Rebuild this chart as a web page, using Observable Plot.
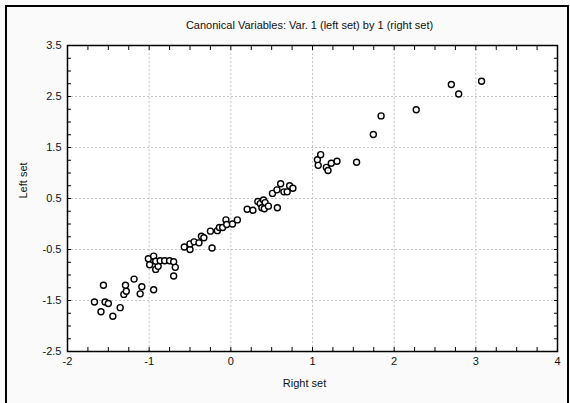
<!DOCTYPE html>
<html><head><meta charset="utf-8">
<script src="https://cdn.jsdelivr.net/npm/d3@7"></script>
<script src="https://cdn.jsdelivr.net/npm/@observablehq/plot@0.6"></script>
<style>
html,body{margin:0;padding:0;background:#fafafa;overflow:hidden;}
#wrap{position:relative;width:570px;height:403px;overflow:hidden;}
#border{position:absolute;left:5px;top:5px;width:564px;height:420px;border:2px solid #000;box-sizing:border-box;pointer-events:none;}
#chart{position:absolute;left:0;top:0;}
</style></head><body>
<div id="wrap"><div id="chart"></div><div id="border"></div></div>
<script>
const titleText = "Canonical Variables: Var. 1 (left set) by 1 (right set)";
const xLabel = "Right set";
const yLabel = "Left set";

const rightSet = [
  -1.67,-1.59,-1.56,-1.54,-1.50,-1.445,-1.355,-1.31,-1.28,-1.29,-1.185,-1.09,-1.11,-0.945,
  -1.01,-0.945,-0.994,-0.92,-0.89,-0.92,-0.865,-0.81,-0.75,-0.70,-0.68,-0.70,
  -0.57,-0.50,-0.50,-0.45,-0.39,-0.36,-0.33,-0.23,-0.25,-0.165,-0.14,-0.10,-0.06,-0.05,0.02,0.08,
  0.20,0.27,0.33,0.36,0.40,0.42,0.38,0.41,0.46,0.57,0.51,0.565,0.61,0.65,0.69,0.72,0.76,
  1.06,1.10,1.07,1.17,1.19,1.23,1.30,1.54,
  1.745,1.84,2.27,2.70,2.79,3.07
];
const leftSet = [
  -1.53,-1.72,-1.20,-1.53,-1.56,-1.81,-1.64,-1.38,-1.32,-1.20,-1.08,-1.23,-1.37,-1.29,
  -0.68,-0.63,-0.80,-0.89,-0.83,-0.73,-0.72,-0.72,-0.72,-0.74,-0.85,-1.02,
  -0.45,-0.50,-0.39,-0.35,-0.37,-0.24,-0.27,-0.47,-0.14,-0.13,-0.07,-0.07,0.08,-0.01,0.00,0.08,
  0.29,0.27,0.44,0.40,0.47,0.42,0.32,0.30,0.35,0.32,0.60,0.67,0.79,0.63,0.63,0.75,0.70,
  1.26,1.36,1.15,1.11,1.05,1.19,1.23,1.21,
  1.755,2.12,2.24,2.735,2.55,2.80
];

const xTicks = [-2,-1,0,1,2,3,4];
const yTicks = [-2.5,-1.5,-0.5,0.5,1.5,2.5,3.5];
const xGrid = [-1,0,1,2,3];
const yGrid = [-1.5,-0.5,0.5,1.5,2.5];
const xMinor = d3.range(-2, 4.001, 0.25);
const yMinor = d3.range(-2.5, 3.501, 0.25);

const points = rightSet.map((x, i) => ({x, y: leftSet[i]}));

const chart = Plot.plot({
  width: 570,
  height: 403,
  marginTop: 45,
  marginBottom: 52,
  marginLeft: 67,
  marginRight: 13,
  style: {fontFamily: "'Liberation Sans', Arial, sans-serif", fontSize: "11px", background: "transparent", color: "#111"},
  x: {domain: [-2, 4]},
  y: {domain: [-2.5, 3.5]},
  marks: [
    Plot.frame({fill: "white", stroke: null}),
    Plot.gridX(xGrid, {stroke: "#c4c4c4", strokeOpacity: 1, strokeDasharray: "2,2"}),
    Plot.gridY(yGrid, {stroke: "#c4c4c4", strokeOpacity: 1, strokeDasharray: "2,2"}),
    Plot.axisX(xMinor, {anchor: "bottom", tickSize: -4, text: null, label: null, stroke: "#000"}),
    Plot.axisX(xMinor, {anchor: "top", tickSize: -4, text: null, label: null, stroke: "#000"}),
    Plot.axisY(yMinor, {anchor: "left", tickSize: -4, text: null, label: null, stroke: "#000"}),
    Plot.axisY(yMinor, {anchor: "right", tickSize: -4, text: null, label: null, stroke: "#000"}),
    Plot.axisX(xTicks, {anchor: "bottom", tickSize: 0, tickPadding: 6, tickFormat: d => String(d), label: null, fill: "#111"}),
    Plot.axisY(yTicks, {anchor: "left", tickSize: 0, tickPadding: 6, tickFormat: d => String(d), label: null, fill: "#111"}),
    Plot.frame({stroke: "#000", strokeWidth: 1.5}),
    Plot.dot(points, {x: "x", y: "y", r: 3, stroke: "#000", strokeWidth: 1.4, fill: "white"}),
    Plot.text([titleText], {frameAnchor: "top", dy: -24, dx: -3, fontSize: 11, fill: "#111"}),
    Plot.text([xLabel], {frameAnchor: "bottom", dy: 35, dx: -8, fontSize: 11, fill: "#111"}),
    Plot.text([yLabel], {frameAnchor: "left", dx: -44, rotate: -90, fontSize: 11, fill: "#111"})
  ]
});
document.getElementById("chart").appendChild(chart);
</script>
</body></html>
